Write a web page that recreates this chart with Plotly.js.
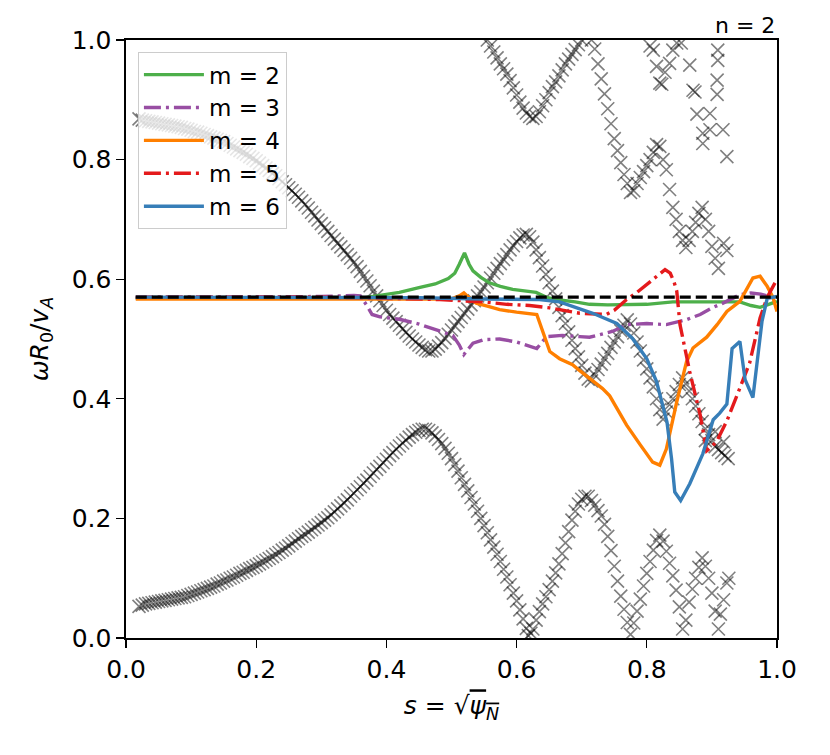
<!DOCTYPE html>
<html>
<head>
<meta charset="utf-8">
<script src="https://cdn.plot.ly/plotly-3.0.1.min.js"></script>
<style>html,body{margin:0;padding:0;background:#fff;}#chart{width:830px;height:755px;}</style>
</head>
<body>
<div id="chart"></div>
<script>
// ---------- data (s, omega R0 / vA) ----------
const titleText = "n = 2";
const legendLabels = ["m = 2", "m = 3", "m = 4", "m = 5", "m = 6"];
const xTicks = [0, 0.2, 0.4, 0.6, 0.8, 1.0];
const yTicks = [0, 0.2, 0.4, 0.6, 0.8, 1.0];

// Alfvén continuum (x markers), lower branch
const contLowA = [[0.020,0.053],[0.025,0.055],[0.030,0.057],[0.035,0.058],[0.040,0.059],[0.045,0.060],[0.050,0.061],[0.055,0.062],[0.060,0.063],[0.065,0.064],[0.070,0.065],[0.075,0.066],[0.080,0.067],[0.085,0.068],[0.090,0.069],[0.095,0.071],[0.100,0.073],[0.105,0.075],[0.110,0.077],[0.115,0.079],[0.120,0.081],[0.125,0.083],[0.130,0.085],[0.135,0.087],[0.140,0.090],[0.145,0.092],[0.150,0.095],[0.155,0.097],[0.160,0.100],[0.165,0.102],[0.170,0.105],[0.175,0.108],[0.180,0.110],[0.185,0.113],[0.190,0.116],[0.195,0.118],[0.200,0.121],[0.205,0.124],[0.210,0.127],[0.215,0.130],[0.220,0.133],[0.225,0.136],[0.230,0.140],[0.235,0.143],[0.240,0.147],[0.245,0.150],[0.250,0.154],[0.255,0.158],[0.260,0.162],[0.265,0.166],[0.270,0.170],[0.275,0.173],[0.280,0.177],[0.285,0.181],[0.290,0.185],[0.295,0.189],[0.300,0.193],[0.305,0.197],[0.310,0.201],[0.315,0.206],[0.320,0.211],[0.325,0.216],[0.330,0.221],[0.335,0.226],[0.340,0.231],[0.345,0.237],[0.350,0.242],[0.355,0.248],[0.360,0.253],[0.365,0.259],[0.370,0.264],[0.375,0.270],[0.380,0.276],[0.385,0.282],[0.390,0.287],[0.395,0.293],[0.400,0.299],[0.405,0.305],[0.410,0.310],[0.415,0.316],[0.420,0.321],[0.425,0.326],[0.430,0.331],[0.435,0.336],[0.440,0.340],[0.445,0.344],[0.450,0.347],[0.455,0.349],[0.460,0.349],[0.465,0.347],[0.470,0.343],[0.475,0.338],[0.480,0.332],[0.485,0.325],[0.490,0.317],[0.495,0.309],[0.500,0.300],[0.505,0.290],[0.510,0.279],[0.515,0.268],[0.520,0.257],[0.525,0.246],[0.530,0.235],[0.535,0.224],[0.540,0.212],[0.545,0.200],[0.550,0.188],[0.555,0.176],[0.560,0.164],[0.565,0.152],[0.570,0.140],[0.575,0.128],[0.580,0.115],[0.585,0.102],[0.590,0.089],[0.595,0.075],[0.600,0.062],[0.605,0.047],[0.610,0.032],[0.615,0.016],[0.618,0.004]];
const contLowB = [[0.622,0.008],[0.625,0.015],[0.630,0.030],[0.635,0.044],[0.640,0.057],[0.645,0.069],[0.650,0.081],[0.655,0.095],[0.660,0.109],[0.665,0.124],[0.670,0.141],[0.675,0.159],[0.680,0.178],[0.685,0.197],[0.690,0.212],[0.695,0.224],[0.700,0.232],[0.705,0.237],[0.710,0.237],[0.715,0.230],[0.720,0.222],[0.725,0.213],[0.730,0.204],[0.735,0.190],[0.740,0.170],[0.745,0.146],[0.750,0.120],[0.755,0.095],[0.760,0.070],[0.765,0.048],[0.770,0.026],[0.775,0.006],[0.780,0.025],[0.785,0.045],[0.790,0.065],[0.795,0.087],[0.800,0.108],[0.805,0.128],[0.810,0.147],[0.815,0.163],[0.820,0.172],[0.825,0.162],[0.830,0.145],[0.835,0.125],[0.840,0.104],[0.845,0.080],[0.850,0.052],[0.855,0.015],[0.860,0.030],[0.865,0.060],[0.870,0.082],[0.875,0.100],[0.880,0.118],[0.885,0.134],[0.890,0.120],[0.895,0.100],[0.900,0.075],[0.905,0.045],[0.910,0.015],[0.913,0.040],[0.918,0.064],[0.923,0.092],[0.926,0.100]];

// Alfvén continuum, middle branch
const contMidA = [[0.020,0.868],[0.025,0.866],[0.030,0.865],[0.035,0.864],[0.040,0.863],[0.045,0.862],[0.050,0.861],[0.055,0.860],[0.060,0.859],[0.065,0.858],[0.070,0.857],[0.075,0.856],[0.080,0.855],[0.085,0.854],[0.090,0.852],[0.095,0.851],[0.100,0.849],[0.105,0.847],[0.110,0.846],[0.115,0.844],[0.120,0.842],[0.125,0.840],[0.130,0.838],[0.135,0.836],[0.140,0.834],[0.145,0.832],[0.150,0.830],[0.155,0.827],[0.160,0.824],[0.165,0.821],[0.170,0.818],[0.175,0.815],[0.180,0.812],[0.185,0.809],[0.190,0.805],[0.195,0.802],[0.200,0.798],[0.205,0.794],[0.210,0.790],[0.215,0.786],[0.220,0.782],[0.225,0.777],[0.230,0.773],[0.235,0.768],[0.240,0.763],[0.245,0.758],[0.250,0.753],[0.255,0.748],[0.260,0.742],[0.265,0.737],[0.270,0.731],[0.275,0.725],[0.280,0.719],[0.285,0.712],[0.290,0.706],[0.295,0.699],[0.300,0.693],[0.305,0.686],[0.310,0.680],[0.315,0.673],[0.320,0.667],[0.325,0.660],[0.330,0.654],[0.335,0.648],[0.340,0.641],[0.345,0.635],[0.350,0.628],[0.355,0.621],[0.360,0.613],[0.365,0.605],[0.370,0.597],[0.375,0.589],[0.380,0.580],[0.385,0.572],[0.390,0.564],[0.395,0.556],[0.400,0.548],[0.405,0.541],[0.410,0.535],[0.415,0.529],[0.420,0.523],[0.425,0.517],[0.430,0.511],[0.435,0.505],[0.440,0.500],[0.445,0.495],[0.450,0.490],[0.455,0.486],[0.460,0.482],[0.465,0.480],[0.470,0.480],[0.475,0.483],[0.480,0.488],[0.485,0.494],[0.490,0.501],[0.495,0.508],[0.500,0.515],[0.505,0.522],[0.510,0.529],[0.515,0.536],[0.520,0.543],[0.525,0.550],[0.530,0.557],[0.535,0.564],[0.540,0.572],[0.545,0.579],[0.550,0.587],[0.555,0.594],[0.560,0.602],[0.565,0.610],[0.570,0.618],[0.575,0.626],[0.580,0.633],[0.585,0.641],[0.590,0.649],[0.595,0.656],[0.600,0.663],[0.605,0.669],[0.610,0.674],[0.615,0.675],[0.620,0.671],[0.625,0.662],[0.630,0.649],[0.635,0.636],[0.640,0.622],[0.645,0.608],[0.650,0.594],[0.655,0.580],[0.660,0.567],[0.665,0.553],[0.670,0.539],[0.675,0.526],[0.680,0.512],[0.685,0.498],[0.690,0.484],[0.695,0.470],[0.700,0.456],[0.705,0.443],[0.710,0.433],[0.715,0.430]];
const contMidB = [[0.720,0.440],[0.725,0.449],[0.730,0.458],[0.735,0.467],[0.740,0.476],[0.745,0.486],[0.750,0.495],[0.755,0.504],[0.760,0.514],[0.765,0.523],[0.770,0.532],[0.775,0.525],[0.780,0.510],[0.785,0.495],[0.790,0.480],[0.795,0.465],[0.800,0.450],[0.805,0.435],[0.810,0.420],[0.815,0.400],[0.820,0.382],[0.825,0.366],[0.830,0.378],[0.835,0.390],[0.840,0.400],[0.845,0.412],[0.850,0.424],[0.855,0.435],[0.860,0.425],[0.865,0.413],[0.870,0.400],[0.875,0.388],[0.880,0.375],[0.885,0.362],[0.890,0.350],[0.895,0.340],[0.900,0.330],[0.905,0.320],[0.910,0.315],[0.915,0.310],[0.920,0.305],[0.925,0.300],[0.890,0.330],[0.905,0.345],[0.918,0.328]];

// Alfvén continuum, upper branches
const contTopA = [[0.555,1.000],[0.560,0.990],[0.565,0.980],[0.570,0.970],[0.575,0.960],[0.580,0.952],[0.585,0.943],[0.590,0.932],[0.595,0.920],[0.600,0.908],[0.605,0.896],[0.610,0.886],[0.615,0.878],[0.620,0.872],[0.625,0.869],[0.630,0.872],[0.635,0.880],[0.640,0.890],[0.645,0.900],[0.650,0.912],[0.655,0.922],[0.660,0.930],[0.665,0.940],[0.670,0.950],[0.675,0.960],[0.680,0.968],[0.685,0.976],[0.690,0.984],[0.695,0.992],[0.700,1.000]];
const contTopB = [[0.715,1.000],[0.720,0.985],[0.725,0.960],[0.730,0.935],[0.735,0.910],[0.740,0.885],[0.745,0.860],[0.750,0.835],[0.755,0.815],[0.760,0.795],[0.765,0.775],[0.770,0.760],[0.775,0.745],[0.780,0.748],[0.785,0.760],[0.790,0.770],[0.795,0.780],[0.800,0.790],[0.805,0.800],[0.810,0.812],[0.815,0.825],[0.820,0.822],[0.825,0.800],[0.830,0.783],[0.835,0.750],[0.840,0.720],[0.845,0.700],[0.850,0.680],[0.855,0.665],[0.860,0.653],[0.865,0.665],[0.870,0.680],[0.875,0.695],[0.880,0.710],[0.885,0.720],[0.890,0.700],[0.895,0.680],[0.900,0.655],[0.905,0.635],[0.910,0.618],[0.918,0.660],[0.923,0.648]];
const contTopScatter = [[0.805,0.990],[0.810,0.983],[0.815,0.956],[0.820,0.928],[0.823,0.926],[0.828,0.946],[0.835,0.961],[0.840,0.983],[0.846,0.995],[0.853,0.995],[0.866,0.958],[0.871,0.916],[0.874,0.913],[0.877,0.876],[0.886,0.844],[0.886,0.827],[0.897,0.877],[0.897,0.850],[0.908,0.909],[0.908,0.933],[0.909,0.966],[0.909,0.983],[0.917,0.850],[0.923,0.805]];

// Eigenmode components
const m2 = [[0.015,0.568],[0.100,0.568],[0.200,0.567],[0.300,0.567],[0.360,0.568],[0.390,0.573],[0.420,0.578],[0.450,0.586],[0.475,0.592],[0.495,0.601],[0.505,0.610],[0.512,0.625],[0.520,0.644],[0.527,0.625],[0.533,0.614],[0.545,0.603],[0.558,0.594],[0.575,0.588],[0.594,0.583],[0.615,0.580],[0.630,0.578],[0.645,0.570],[0.660,0.566],[0.690,0.562],[0.712,0.558],[0.740,0.557],[0.763,0.557],[0.800,0.558],[0.840,0.562],[0.880,0.562],[0.920,0.562],[0.943,0.562],[0.960,0.556],[0.974,0.553],[0.985,0.557],[1.000,0.563]];
const m3 = [[0.015,0.570],[0.200,0.570],[0.300,0.571],[0.350,0.573],[0.360,0.572],[0.370,0.556],[0.378,0.541],[0.390,0.537],[0.420,0.533],[0.450,0.525],[0.471,0.517],[0.490,0.511],[0.502,0.506],[0.512,0.490],[0.519,0.474],[0.527,0.485],[0.533,0.493],[0.550,0.499],[0.574,0.500],[0.600,0.495],[0.631,0.484],[0.646,0.504],[0.670,0.506],[0.697,0.504],[0.712,0.503],[0.748,0.513],[0.769,0.524],[0.800,0.526],[0.830,0.524],[0.860,0.532],[0.882,0.541],[0.900,0.552],[0.917,0.560],[0.943,0.574],[0.960,0.577],[0.975,0.575],[1.000,0.568]];
const m4 = [[0.015,0.567],[0.200,0.567],[0.400,0.566],[0.500,0.567],[0.512,0.572],[0.519,0.577],[0.530,0.566],[0.538,0.560],[0.555,0.555],[0.574,0.549],[0.600,0.545],[0.631,0.541],[0.641,0.510],[0.651,0.479],[0.666,0.467],[0.686,0.457],[0.697,0.447],[0.717,0.429],[0.732,0.417],[0.743,0.405],[0.769,0.356],[0.790,0.323],[0.809,0.294],[0.820,0.289],[0.830,0.316],[0.846,0.395],[0.861,0.462],[0.871,0.485],[0.892,0.503],[0.908,0.524],[0.923,0.546],[0.943,0.563],[0.955,0.585],[0.963,0.602],[0.974,0.605],[0.985,0.588],[0.994,0.569],[1.000,0.546]];
const m5 = [[0.015,0.570],[0.300,0.570],[0.400,0.568],[0.482,0.566],[0.550,0.562],[0.585,0.558],[0.620,0.556],[0.651,0.552],[0.697,0.543],[0.738,0.541],[0.750,0.548],[0.769,0.566],[0.785,0.578],[0.800,0.591],[0.815,0.605],[0.828,0.616],[0.836,0.610],[0.842,0.595],[0.846,0.580],[0.851,0.524],[0.866,0.445],[0.882,0.373],[0.892,0.313],[0.900,0.320],[0.908,0.330],[0.923,0.363],[0.943,0.418],[0.958,0.460],[0.974,0.535],[0.985,0.570],[1.000,0.600]];
const m6 = [[0.015,0.570],[0.300,0.570],[0.450,0.569],[0.550,0.567],[0.635,0.566],[0.666,0.562],[0.686,0.554],[0.717,0.543],[0.754,0.526],[0.778,0.501],[0.800,0.467],[0.815,0.429],[0.831,0.361],[0.838,0.300],[0.843,0.244],[0.852,0.230],[0.866,0.258],[0.886,0.308],[0.902,0.365],[0.912,0.376],[0.923,0.391],[0.931,0.484],[0.943,0.496],[0.951,0.432],[0.963,0.402],[0.977,0.530],[0.985,0.568],[1.000,0.571]];
const refLine = [[0.015,0.570],[1.000,0.570]];

// ---------- drawing ----------
const xs = a => a.map(p => p[0]);
const ys = a => a.map(p => p[1]);
const FONT = "DejaVu Sans";
const TICK_FS = 25, LEG_FS = 23, TITLE_FS = 22, AXT_FS = 25;

const contBranches = [contLowA, contLowB, contMidA, contMidB, contTopA, contTopB, contTopScatter];
const traces = contBranches.map(b => ({
  type: "scatter", mode: "markers", x: xs(b), y: ys(b), showlegend: false, hoverinfo: "skip",
  marker: {symbol: "x-thin", size: 13, color: "rgba(0,0,0,0.5)", line: {width: 1.6, color: "rgba(0,0,0,0.5)"}}
}));

const modes = [
  {d: m2, c: "#4daf4a", dash: "solid"},
  {d: m3, c: "#984ea3", dash: "17px,5px,3px,5px"},
  {d: m4, c: "#ff7f00", dash: "solid"},
  {d: m5, c: "#e41a1c", dash: "17px,5px,3px,5px"},
  {d: m6, c: "#377eb8", dash: "solid"}
];
modes.forEach((m, i) => traces.push({
  type: "scatter", mode: "lines", x: xs(m.d), y: ys(m.d), name: legendLabels[i],
  line: {color: m.c, width: 3.4, dash: m.dash}, hoverinfo: "skip"
}));
traces.push({type: "scatter", mode: "lines", x: xs(refLine), y: ys(refLine), showlegend: false,
  line: {color: "#000", width: 3.2, dash: "11px,5px"}, hoverinfo: "skip"});

const axisBase = {
  range: [0, 1], showgrid: false, zeroline: false, showline: true, mirror: true,
  linecolor: "#000", linewidth: 1.6, ticks: "outside", ticklen: 8, tickwidth: 1.4, tickcolor: "#000",
  tickformat: ".1f", tickfont: {family: FONT, size: TICK_FS, color: "#000"}
};

const layout = {
  width: 830, height: 755,
  margin: {l: 126, r: 53, t: 40, b: 117},
  paper_bgcolor: "#fff", plot_bgcolor: "#fff",
  font: {family: FONT, size: TICK_FS, color: "#000"},
  xaxis: Object.assign({}, axisBase, {tickvals: xTicks,
    title: {text: "<i>s</i> = √<span style=\"text-decoration:overline\"><i>ψ</i><sub><i>N</i></sub></span>", font: {family: FONT, size: AXT_FS}, standoff: 14}}),
  yaxis: Object.assign({}, axisBase, {tickvals: yTicks,
    title: {text: "<i>ωR</i><sub>0</sub>/<i>v</i><sub><i>A</i></sub>", font: {family: FONT, size: AXT_FS}, standoff: 16}}),
  showlegend: true,
  legend: {x: 0.018, y: 0.98, xanchor: "left", yanchor: "top", bgcolor: "rgba(255,255,255,0.8)",
    bordercolor: "#cccccc", borderwidth: 1.2, font: {family: FONT, size: LEG_FS, color: "#000"}, itemwidth: 60},
  annotations: [{text: titleText, xref: "paper", yref: "paper", x: 1, y: 1, xanchor: "right", yanchor: "bottom",
    yshift: 0, showarrow: false, font: {family: FONT, size: TITLE_FS, color: "#000"}}],
  hovermode: false
};

Plotly.newPlot("chart", traces, layout, {staticPlot: true, displayModeBar: false});
</script>
</body>
</html>
